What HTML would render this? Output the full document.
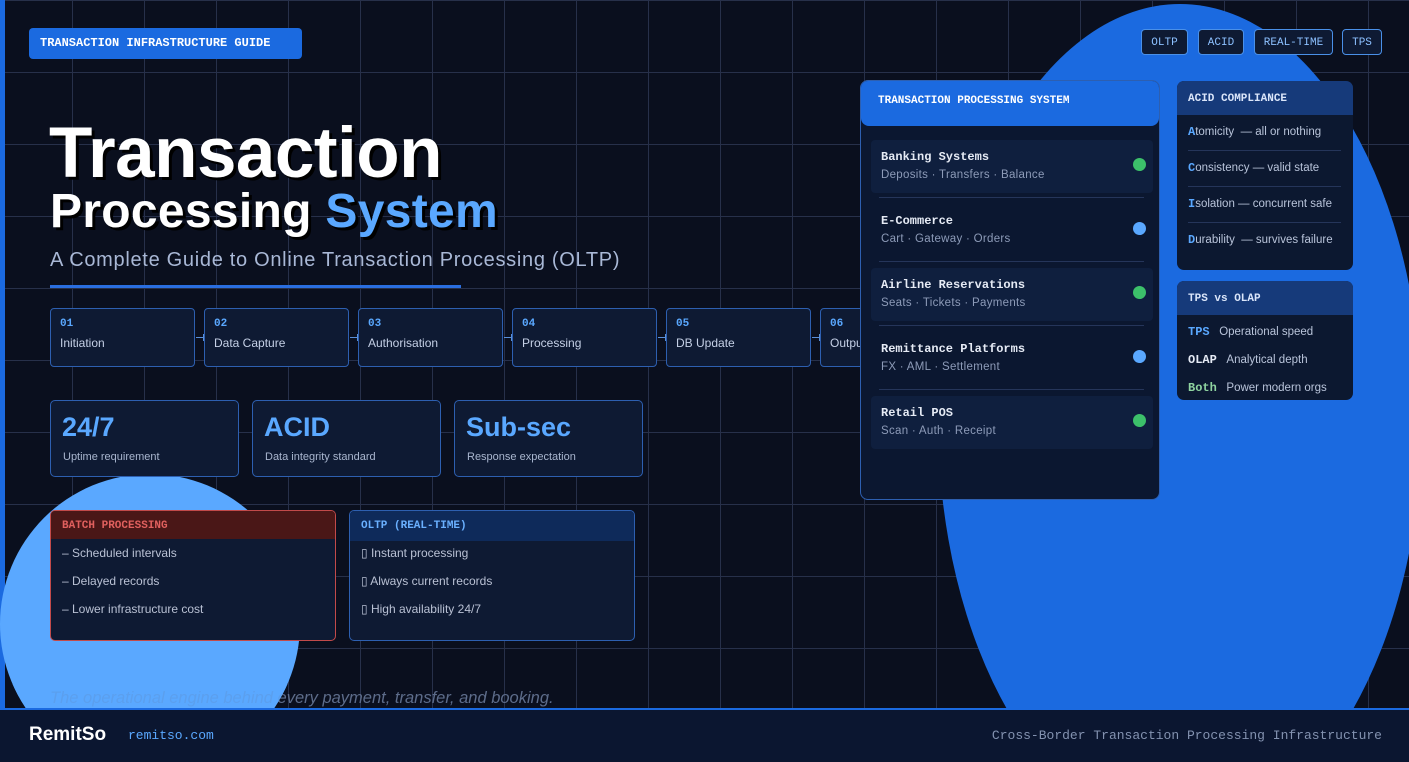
<!DOCTYPE html>
<html><head><meta charset="utf-8"><style>
*{margin:0;padding:0;box-sizing:border-box}
html,body{width:1409px;height:762px;overflow:hidden;background:#0a0f1e}
body{font-family:"Liberation Sans",sans-serif}
#w{position:relative;width:1409px;height:762px;overflow:hidden}
.abs{position:absolute}
.grid{position:absolute;left:0;top:0;width:1409px;height:709px;background-image:linear-gradient(to right,#27304a 1px,transparent 1px),linear-gradient(to bottom,#27304a 1px,transparent 1px);background-size:72px 72px;background-position:0 0}
.mono{font-family:"Liberation Mono",monospace}
.step{position:absolute;top:308px;width:145px;height:59px;background:#0e1a33;border:1px solid #2d5fb0;border-radius:4px}
.step .n{position:absolute;left:9px;top:9px;font:bold 11px "Liberation Mono",monospace;color:#5aa8ff}
.step .l{position:absolute;left:9px;top:27px;font-size:12px;color:#c5d0e6}
.conn{position:absolute;top:337px;width:8px;height:1px;background:#5a8fd8}
.conn:after{content:"";position:absolute;right:0;top:-3px;width:1px;height:7px;background:#5a8fd8}
.stat{position:absolute;top:400px;width:189px;height:77px;background:#0e1a33;border:1px solid #2d5fb0;border-radius:5px}
.stat .b{position:absolute;left:11px;top:11px;font-weight:bold;font-size:27px;color:#5aa8ff}
.stat .s{position:absolute;left:12px;top:50px;font-size:11px;color:#a9b6cf}
.cmp{position:absolute;top:510px;width:286px;height:131px;background:#0e1a33;border-radius:5px;overflow:hidden}
.cmp .h{height:28px;padding:9px 11px;font:bold 11px "Liberation Mono",monospace}
.cmp .i{position:absolute;left:11px;font-size:12px;color:#b9c1d4}
.tag{position:absolute;top:29px;height:26px;border:1px solid #4a90e8;background:#0e1a33;border-radius:4px;font:11px "Liberation Mono",monospace;color:#8cc0ff;text-align:center;line-height:26px}
.row{position:absolute;left:10px;width:282px;height:53px}
.row .t{position:absolute;left:10px;top:10px;font:bold 12px "Liberation Mono",monospace;color:#e6ebf5}
.row .s{position:absolute;left:10px;top:29px;font-size:11.5px;color:#8d9bb8;letter-spacing:.3px}
.row .d{position:absolute;left:262px;top:18px;width:13px;height:13px;border-radius:50%}
.sep{position:absolute;left:18px;width:265px;height:1px;background:#25355a}
.side{position:absolute;left:1177px;width:176px;background:#0c1830;border-radius:7px;overflow:hidden}
.side .h{height:34px;background:#163a7a;padding:12px 11px;font:bold 11px "Liberation Mono",monospace;color:#dbe6fa}
.ac{position:absolute;left:11px;font-size:11.5px;color:#b9c4da;white-space:nowrap}
.ac b{font:bold 12px "Liberation Mono",monospace;color:#5aa8ff}
</style></head><body><div id="w">
<div class="grid"></div>
<div class="abs" style="left:0;top:0;width:5px;height:709px;background:#1b6ae0"></div>
<svg class="abs" style="left:0;top:0" width="1409" height="709" viewBox="0 0 1409 709">
<ellipse cx="1180" cy="419" rx="242" ry="415" fill="#1b6ae0"/>
<circle cx="150" cy="624" r="150" fill="#5aa8ff"/>
</svg>

<div class="abs mono" style="left:29px;top:28px;width:273px;height:31px;background:#1b6ae0;border-radius:4px;color:#fff;font-weight:bold;font-size:12px;line-height:31px;padding-left:11px">TRANSACTION INFRASTRUCTURE GUIDE</div>

<div class="abs" style="left:49px;top:113px;font-weight:bold;font-size:71px;color:#fff;text-shadow:3px 3px 0 #000;letter-spacing:-0.5px">Transaction</div>
<div class="abs" style="left:50px;top:184px;font-weight:bold;font-size:48px;color:#fff;text-shadow:3px 3px 0 #000;letter-spacing:.3px">Processing <span style="color:#5aa8ff">System</span></div>
<div class="abs" style="left:50px;top:249px;font-size:20px;color:#a9b8d6;letter-spacing:.7px">A Complete Guide to Online Transaction Processing (OLTP)</div>
<div class="abs" style="left:50px;top:285px;width:411px;height:3px;background:#2a6ee0"></div>

<div class="step" style="left:50px"><div class="n">01</div><div class="l">Initiation</div></div>
<div class="conn" style="left:196px"></div>
<div class="step" style="left:204px"><div class="n">02</div><div class="l">Data Capture</div></div>
<div class="conn" style="left:350px"></div>
<div class="step" style="left:358px"><div class="n">03</div><div class="l">Authorisation</div></div>
<div class="conn" style="left:504px"></div>
<div class="step" style="left:512px"><div class="n">04</div><div class="l">Processing</div></div>
<div class="conn" style="left:658px"></div>
<div class="step" style="left:666px"><div class="n">05</div><div class="l">DB Update</div></div>
<div class="conn" style="left:812px"></div>
<div class="step" style="left:820px"><div class="n">06</div><div class="l">Output</div></div>

<div class="stat" style="left:50px"><div class="b">24/7</div><div class="s">Uptime requirement</div></div>
<div class="stat" style="left:252px"><div class="b">ACID</div><div class="s">Data integrity standard</div></div>
<div class="stat" style="left:454px"><div class="b">Sub-sec</div><div class="s">Response expectation</div></div>

<div class="cmp" style="left:50px;border:1px solid #c24a4a"><div class="h" style="background:#4a1717;color:#e0605e">BATCH PROCESSING</div>
<div class="i" style="top:35px">– Scheduled intervals</div><div class="i" style="top:63px">– Delayed records</div><div class="i" style="top:91px">– Lower infrastructure cost</div></div>
<div class="cmp" style="left:349px;border:1px solid #2d5fb0"><div class="h" style="background:#0e2a5a;color:#6ab0ff;height:30px">OLTP (REAL-TIME)</div>
<div class="i" style="top:35px">▯ Instant processing</div><div class="i" style="top:63px">▯ Always current records</div><div class="i" style="top:91px">▯ High availability 24/7</div></div>

<div class="abs" style="left:50px;top:689px;font-style:italic;font-size:16.5px;line-height:19px;color:#5d6c8a;white-space:nowrap">The operational engine behind every payment, transfer, and booking.</div>
<svg class="abs" style="left:0;top:684px" width="300" height="25" viewBox="0 684 300 25"><circle cx="150" cy="624" r="150" fill="#5aa8ff" opacity=".85"/></svg>

<div class="tag" style="left:1141px;width:47px">OLTP</div>
<div class="tag" style="left:1198px;width:46px">ACID</div>
<div class="tag" style="left:1254px;width:79px">REAL-TIME</div>
<div class="tag" style="left:1342px;width:40px">TPS</div>

<div class="abs" style="left:860px;top:80px;width:300px;height:420px;background:#0b1730;border:1px solid #2d5fb0;border-radius:8px;overflow:hidden">
<div style="height:45px;background:#1b6ae0;border-radius:0 0 8px 8px;padding:14px 17px;font:bold 11px 'Liberation Mono',monospace;color:#fff">TRANSACTION PROCESSING SYSTEM</div>
<div class="row" style="top:59px;background:#0f1f3e;border-radius:4px"><div class="t">Banking Systems</div><div class="s">Deposits · Transfers · Balance</div><div class="d" style="background:#3cc06a"></div></div>
<div class="sep" style="top:116px"></div>
<div class="row" style="top:123px"><div class="t">E-Commerce</div><div class="s">Cart · Gateway · Orders</div><div class="d" style="background:#5aa8ff"></div></div>
<div class="sep" style="top:180px"></div>
<div class="row" style="top:187px;background:#0f1f3e;border-radius:4px"><div class="t">Airline Reservations</div><div class="s">Seats · Tickets · Payments</div><div class="d" style="background:#3cc06a"></div></div>
<div class="sep" style="top:244px"></div>
<div class="row" style="top:251px"><div class="t">Remittance Platforms</div><div class="s">FX · AML · Settlement</div><div class="d" style="background:#5aa8ff"></div></div>
<div class="sep" style="top:308px"></div>
<div class="row" style="top:315px;background:#0f1f3e;border-radius:4px"><div class="t">Retail POS</div><div class="s">Scan · Auth · Receipt</div><div class="d" style="background:#3cc06a"></div></div>
</div>

<div class="side" style="top:81px;height:189px"><div class="h">ACID COMPLIANCE</div>
<div class="ac" style="top:44px"><b>A</b>tomicity &nbsp;— all or nothing</div>
<div class="sep" style="left:11px;width:153px;top:69px"></div>
<div class="ac" style="top:80px"><b>C</b>onsistency — valid state</div>
<div class="sep" style="left:11px;width:153px;top:105px"></div>
<div class="ac" style="top:116px"><b>I</b>solation — concurrent safe</div>
<div class="sep" style="left:11px;width:153px;top:141px"></div>
<div class="ac" style="top:152px"><b>D</b>urability &nbsp;— survives failure</div>
</div>
<div class="side" style="top:281px;height:119px"><div class="h">TPS vs OLAP</div>
<div class="ac" style="top:44px"><b>TPS</b> &nbsp;&nbsp;Operational speed</div>
<div class="ac" style="top:72px"><b style="color:#e6ebf5">OLAP</b> &nbsp;&nbsp;Analytical depth</div>
<div class="ac" style="top:100px"><b style="color:#8fd4a0">Both</b> &nbsp;&nbsp;Power modern orgs</div>
</div>

<div class="abs" style="left:0;top:708px;width:1409px;height:54px;background:#0b1630;border-top:2px solid #1b6ae0"></div>
<div class="abs" style="left:29px;top:724px;font-weight:bold;font-size:19px;line-height:22px;color:#fff">RemitSo</div>
<div class="abs mono" style="left:128px;top:728px;font-size:13px;line-height:16px;color:#5aa8ff">remitso.com</div>
<div class="abs mono" style="right:27px;top:728px;font-size:13px;line-height:16px;color:#8392b0;white-space:nowrap">Cross-Border Transaction Processing Infrastructure</div>
</div></body></html>
